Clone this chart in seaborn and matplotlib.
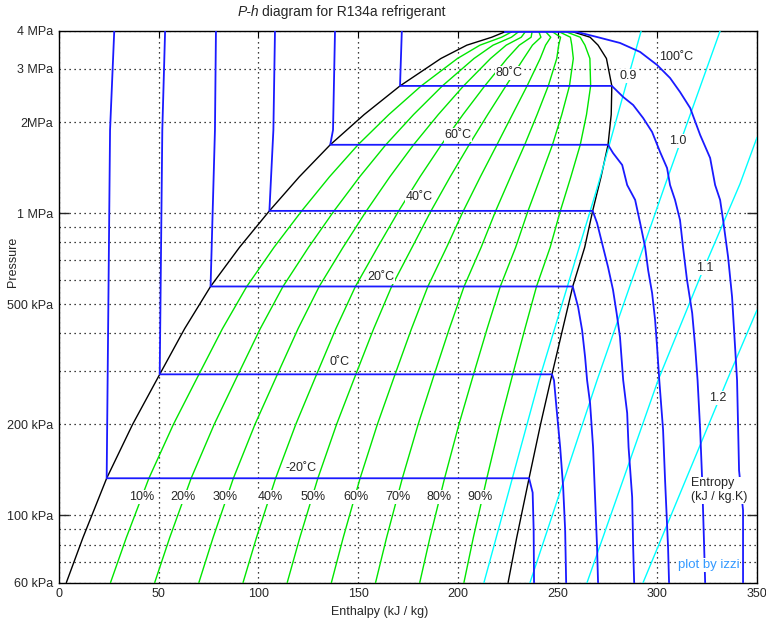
import numpy as np
import pandas as pd
import matplotlib
matplotlib.use("Agg")
import matplotlib.pyplot as plt
import seaborn as sns
from matplotlib.ticker import FixedLocator, FixedFormatter, NullFormatter

# ---------------- data ----------------
# saturation table: pressure (kPa), liquid / vapour enthalpy (kJ/kg)
sat_T = [-37, -30, -20, -10, 0, 10, 20, 30, 40, 50, 60, 70, 80, 90, 95, 98, 100]
sat_P = [60, 84.4, 132.7, 200.6, 292.8, 414.6, 571.7, 770.2, 1016.6, 1317.9,
         1681.8, 2116.5, 2633.2, 3244.5, 3590.9, 3815.0, 3972.4]
sat_hf = [3.7, 12.0, 23.9, 37.0, 50.5, 63.0, 76.0, 90.5, 105.5, 120.5,
          136.0, 153.0, 171.0, 191.5, 204.5, 217.0, 223.5]
sat_hg = [225.2, 229.5, 235.7, 241.5, 247.2, 252.6, 257.6, 263.6, 267.6, 271.8,
          275.3, 276.9, 277.2, 274.5, 270.3, 266.3, 257.8]

quality_levels = [0.1, 0.2, 0.3, 0.4, 0.5, 0.6, 0.7, 0.8, 0.9]
quality_labels = ["10%", "20%", "30%", "40%", "50%", "60%", "70%", "80%", "90%"]
quality_label_h = [41.6, 62.2, 83.2, 105.8, 127.4, 148.9, 170.0, 190.6, 211.1]
quality_label_P = 115

# isotherms (enthalpy, pressure)
iso_m20_h = [27.7, 25.6, 23.9, 235.7, 237.5, 238.0, 238.2]
iso_m20_P = [4000, 1882, 132.7, 132.7, 119, 90, 60]
iso_0_h = [53.2, 51.8, 50.5, 247.2, 248.2, 249.7, 251.3, 252.8, 253.8, 254.3]
iso_0_P = [4000, 1882, 292.8, 292.8, 280, 218, 168, 124, 89.5, 60]
iso_20_h = [78.7, 78.2, 76.0, 257.6, 260.3, 262.3, 263.8, 264.8, 266.3, 267.8, 268.8, 269.8, 270.3]
iso_20_P = [4000, 1882, 571.7, 571.7, 489, 410, 334, 280, 235, 168, 115, 78.6, 60]
iso_40_h = [108.3, 107.5, 105.5, 267.6, 269.8, 272.8, 275.3, 277.8, 279.6, 281.3, 282.9,
            284.9, 285.6, 287.4, 287.9, 288.4]
iso_40_P = [4000, 1882, 1016.6, 1016.6, 927, 772, 663, 557, 467, 389, 280, 218, 168, 115, 78.6, 60]
iso_60_h = [138.4, 137.4, 136.0, 275.3, 277.8, 282.4, 284.9, 288.9, 291.4, 293.9, 295.4,
            297.4, 298.9, 299.9, 301.0, 302.9, 303.9, 305.4, 305.9]
iso_60_P = [4000, 1882, 1681.8, 1681.8, 1580, 1442, 1238, 1105, 927, 772, 648, 544, 443,
            361, 280, 192, 131, 78.6, 60]
iso_80_h = [171.9, 171.0, 277.2, 282.9, 287.9, 292.9, 297.4, 301.4, 304.9, 306.4, 308.9,
            311.4, 312.9, 314.9, 317.5, 319.0, 320.2, 321.5, 322.5, 323.5, 324.0]
iso_80_P = [4000, 2633.2, 2633.2, 2420, 2277, 2062, 1854, 1592, 1409, 1238, 1105, 948, 772,
            601, 467, 361, 280, 192, 131, 78.6, 60]
iso_100_h = [223.5, 257.8, 259.8, 269.8, 281.3, 291.4, 299.9, 306.4, 311.4, 316.5, 321.5,
             326.5, 329.0, 331.5, 333.0, 335.5, 337.5, 339.0, 340.0, 341.0, 343.0, 343.0]
iso_100_P = [3972.4, 3972.4, 3970, 3821, 3652, 3410, 3088, 2797, 2514, 2225, 1812, 1521,
             1238, 1105, 948, 716, 528, 361, 280, 141, 104, 60]

iso_labels = ["-20˚C", "0˚C", "20˚C", "40˚C", "60˚C", "80˚C", "100˚C"]
iso_label_h = [121.3, 140.9, 161.5, 180.5, 200.1, 225.8, 309.4]
iso_label_P = [143.5, 322, 614, 1130, 1812, 2906, 3281]

# constant-entropy lines
s_09_h = [213.1, 240.7, 270.3, 291.9]
s_09_P = [60, 280, 1238, 4000]
s_10_h = [236.2, 269.8, 303.9, 331.5]
s_10_P = [60, 280, 1238, 4000]
s_11_h = [264.8, 300.4, 321.5, 341.5, 350.0]
s_11_P = [60, 280, 614, 1250, 1778]
s_12_h = [292.9, 335.0, 350.0]
s_12_P = [60, 280, 478]
s_labels = ["0.9", "1.0", "1.1", "1.2"]
s_label_h = [285.4, 310.4, 324.0, 330.5]
s_label_P = [2840, 1731, 658, 244.5]

# axis ticks
x_ticks = [0, 50, 100, 150, 200, 250, 300, 350]
y_ticks = [60, 100, 200, 500, 1000, 2000, 3000, 4000]
y_ticklabels = ["60 kPa", "100 kPa", "200 kPa", "500 kPa", "1 MPa", "2MPa", "3 MPa", "4 MPa"]
y_minor = [70, 80, 90, 300, 400, 600, 700, 800, 900]

# ---------------- figure ----------------
sns.set_style("white")
plt.rcParams["font.family"] = ["Liberation Sans", "DejaVu Sans"]
FS = 9

W, H = 766, 625
fig = plt.figure(figsize=(W / 100, H / 100), dpi=100)
L, R, T, B = 59, 757, 31, 582.5
ax = fig.add_axes([L / W, 1 - B / H, (R - L) / W, (B - T) / H])
ax.set_yscale("log")

BLUE = "#1a1aff"
GREEN = "#00e600"
CYAN = "#00ffff"


def line(h, P, color, lw, z):
    df = pd.DataFrame({"h": h, "P": P})
    sns.lineplot(data=df, x="h", y="P", sort=False, estimator=None,
                 color=color, lw=lw, ax=ax, zorder=z)


# quality lines from saturation data
hf = np.array(sat_hf)
hg = np.array(sat_hg)
for q in quality_levels:
    line(hf + q * (hg - hf), sat_P, GREEN, 1.0, 3)

# saturation dome
line(sat_hf, sat_P, "black", 1.0, 4)
line(sat_hg, sat_P, "black", 1.0, 4)

# entropy lines
for h, P in [(s_09_h, s_09_P), (s_10_h, s_10_P), (s_11_h, s_11_P), (s_12_h, s_12_P)]:
    line(h, P, CYAN, 1.0, 5)

# isotherms
for h, P in [(iso_m20_h, iso_m20_P), (iso_0_h, iso_0_P), (iso_20_h, iso_20_P),
             (iso_40_h, iso_40_P), (iso_60_h, iso_60_P), (iso_80_h, iso_80_P),
             (iso_100_h, iso_100_P)]:
    line(h, P, BLUE, 1.3, 6)

ax.set_xlim(0, 350)
ax.set_ylim(60, 4000)

bbox = dict(facecolor="white", edgecolor="none", pad=0.5)
for t, h, P in zip(iso_labels, iso_label_h, iso_label_P):
    ax.text(h, P, t, ha="center", va="center", fontsize=FS, bbox=bbox, zorder=10)
for t, h in zip(quality_labels, quality_label_h):
    ax.text(h, quality_label_P, t, ha="center", va="center", fontsize=FS, bbox=bbox, zorder=10)
for t, h, P in zip(s_labels, s_label_h, s_label_P):
    ax.text(h, P, t, ha="center", va="center", fontsize=FS, bbox=bbox, zorder=10)

ax.text(317, 121, "Entropy\n(kJ / kg.K)", ha="left", va="center", fontsize=FS,
        linespacing=1.2, bbox=bbox, zorder=10)
ax.text(310.4, 68.6, "plot by izzi", ha="left", va="center", fontsize=9.5,
        color="#3399ff", bbox=bbox, zorder=10)

# ticks / grid
ax.xaxis.set_major_locator(FixedLocator(x_ticks))
ax.set_xticklabels([str(v) for v in x_ticks])
ax.yaxis.set_major_locator(FixedLocator(y_ticks))
ax.yaxis.set_major_formatter(FixedFormatter(y_ticklabels))
ax.yaxis.set_minor_locator(FixedLocator(y_minor))
ax.yaxis.set_minor_formatter(NullFormatter())
ax.tick_params(axis="x", direction="in", length=4, top=True, labelsize=FS, pad=4, color="black")
ax.tick_params(axis="y", which="both", direction="in", length=0, left=True, right=True,
               labelsize=FS, pad=4)
for v, tk in zip(y_ticks, ax.yaxis.get_major_ticks()):
    if v in (100, 1000):
        tk.tick1line.set_markersize(7)
        tk.tick2line.set_markersize(7)
        tk.tick1line.set_markeredgewidth(1.0)
        tk.tick2line.set_markeredgewidth(1.0)
    else:
        tk.tick1line.set_markersize(0)
        tk.tick2line.set_markersize(0)

gstyle = dict(color="black", linestyle=(0, (1, 3)), linewidth=0.9)
ax.grid(True, which="major", axis="both", **gstyle)
ax.grid(True, which="minor", axis="y", **gstyle)
ax.set_axisbelow(True)
for sp in ax.spines.values():
    sp.set_color("black")
    sp.set_linewidth(1.0)
ax.set_xlabel("")
ax.set_ylabel("")

# titles / axis labels
fig.text(259 / W, 1 - 12 / H, "P-h", ha="right", va="center", fontsize=10, style="italic")
fig.text(262 / W, 1 - 12 / H, "diagram for R134a refrigerant", ha="left", va="center", fontsize=10)
fig.text(380 / W, 1 - 612 / H, "Enthalpy (kJ / kg)", ha="center", va="center", fontsize=FS)
fig.text(13 / W, 1 - 262 / H, "Pressure", ha="center", va="center", fontsize=FS, rotation=90)

fig.savefig("out.png", dpi=100, facecolor="white")
